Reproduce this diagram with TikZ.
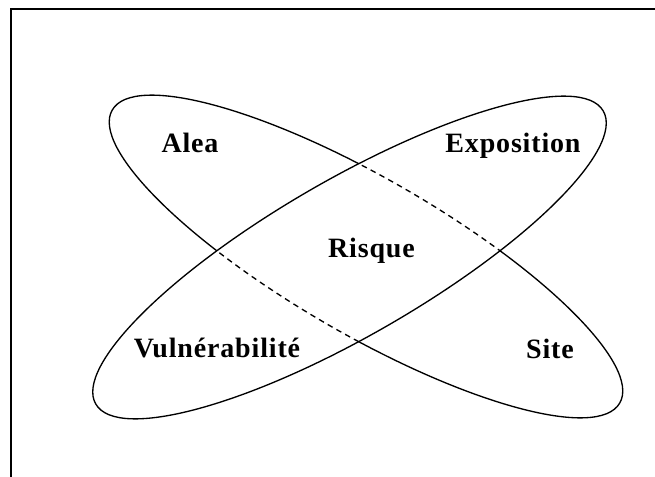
\documentclass[tikz,border=0pt]{standalone}
\usepackage{fontspec}
\setmainfont{Liberation Serif}[LetterSpace=3]
\begin{document}
\begin{tikzpicture}[x=0.75pt,y=-0.75pt,
  curve/.style={line width=1pt},
  hidden/.style={line width=1pt,dash pattern=on 4.2pt off 3.3pt},
  frameline/.style={line width=1.6pt},
  lab/.style={font=\fontsize{21}{25}\selectfont\bfseries,anchor=base,inner sep=0pt}]
\useasboundingbox (0,0) rectangle (655,477);
\coordinate (c1) at (366,256.5);
\coordinate (c2) at (349.5,257.5);
\coordinate (f1) at (11,477);
\coordinate (f2) at (11,9);
\coordinate (f3) at (655,9);
\draw[frameline] (f1) -- (f2) -- (f3);
% hidden part of Alea-Site ellipse (inside the other ellipse)
\begin{scope}
  \clip[rotate around={30:(c2)}] (c2) ellipse (293 and 78);
  \draw[hidden,rotate around={-30:(c1)}] (c1) ellipse (293 and 78);
\end{scope}
% visible part of Alea-Site ellipse
\begin{scope}[even odd rule]
  \clip[rotate around={30:(c2)}] (-1000,-1000) rectangle (2000,2000) (c2) ellipse (293 and 78);
  \draw[curve,rotate around={-30:(c1)}] (c1) ellipse (293 and 78);
\end{scope}
% Vulnerabilite-Exposition ellipse
\draw[curve,rotate around={30:(c2)}] (c2) ellipse (293 and 78);
\node[lab] (alea) at (190,153) {Alea};
\node[lab] (expo) at (513,153) {Exposition};
\node[lab] (risque) at (371.5,257) {Risque};
\node[lab] (vuln) at (217,357) {Vulnérabilité};
\node[lab] (site) at (550,358) {Site};
\end{tikzpicture}
\end{document}
